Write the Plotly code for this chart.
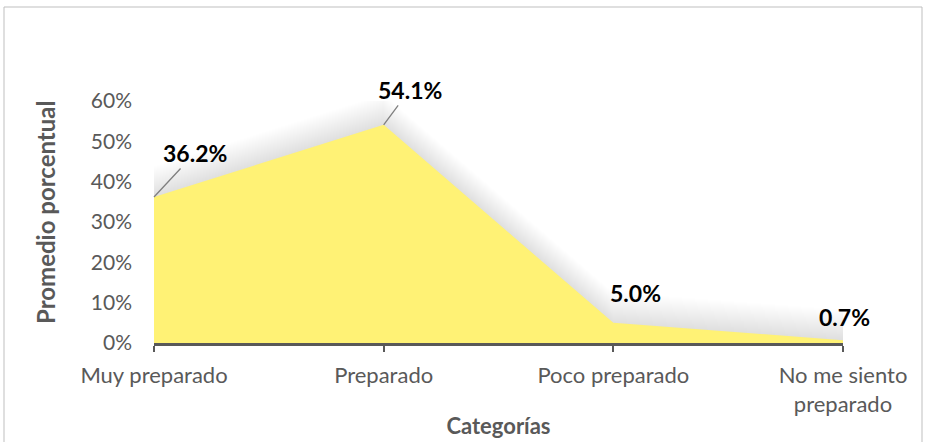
import plotly.graph_objects as go

categories = ["Muy preparado", "Preparado", "Poco preparado", "No me siento<br>preparado"]
values = [36.2, 54.1, 5.0, 0.7]
labels = ["36.2%", "54.1%", "5.0%", "0.7%"]
y_ticks = [0, 10, 20, 30, 40, 50, 60]
x_title = "Categorías"
y_title = "Promedio porcentual"

FONT = "Lato"
GRAY = "#595959"

fig = go.Figure()

# soft, diffuse shadow above the area (stacked translucent layers)
n_layers = 32
for k in range(n_layers, 0, -1):
    fig.add_trace(go.Scatter(
        x=categories, y=[v + k * 0.24 for v in values],
        mode="lines", line=dict(width=0, color="rgba(0,0,0,0)"),
        fill="tozeroy", fillcolor="rgba(0,0,0,0.0045)",
        hoverinfo="skip", showlegend=False))

fig.add_trace(go.Scatter(
    x=categories, y=values, mode="lines",
    line=dict(width=0, color="#FFF275"),
    fill="tozeroy", fillcolor="#FFF275",
    showlegend=False))

# data labels
offsets = [(41, -44, True), (26, -35, True), (22, -30, False), (1, -23, False)]
for cat, val, lab, (ax, ay, arrow) in zip(categories, values, labels, offsets):
    if arrow:
        fig.add_annotation(x=cat, y=val, text=f"<b>{lab}</b>", showarrow=True,
                           ax=ax, ay=ay, arrowhead=0, arrowwidth=1.3,
                           arrowcolor="#7F7F7F", standoff=0, startstandoff=0,
                           font=dict(family=FONT, size=23, color="black"))
    else:
        fig.add_annotation(x=cat, y=val, text=f"<b>{lab}</b>", showarrow=False,
                           xshift=ax, yshift=-ay,
                           font=dict(family=FONT, size=23, color="black"))

# layout geometry
W, H = 925, 442
L, R, T, B = 154, 82, 101, 99
pw, ph = W - L - R, H - T - B

# y-axis title (placed as rotated text)
fig.add_annotation(xref="paper", yref="paper", x=(45 - L) / pw, y=(H - B - 213) / ph,
                   text=f"<b>{y_title}</b>", textangle=-90, showarrow=False,
                   xanchor="center", yanchor="middle",
                   font=dict(family=FONT, size=24, color=GRAY))

# outer chart border
fig.add_shape(type="rect", xref="paper", yref="paper",
              x0=(4 - L) / pw, x1=(922 - L) / pw,
              y0=(B - 441) / ph, y1=(H - 7 - B) / ph,
              line=dict(color="#BFBFBF", width=1), layer="below")

fig.update_layout(
    width=W, height=H,
    margin=dict(l=L, r=R, t=T, b=B, autoexpand=False),
    paper_bgcolor="white", plot_bgcolor="white",
    font=dict(family=FONT, size=21, color=GRAY),
    xaxis=dict(
        type="category", range=[0, 3],
        showline=True, linecolor=GRAY, linewidth=2.5,
        ticks="outside", ticklen=6, tickwidth=2, tickcolor=GRAY,
        showgrid=False, zeroline=False,
        tickfont=dict(family=FONT, size=22, color=GRAY),
        ticklabelstandoff=5,
        title=dict(text=f"<b>{x_title}</b>", standoff=3,
                   font=dict(family=FONT, size=22, color=GRAY)),
    ),
    yaxis=dict(
        range=[0, 60], tickvals=y_ticks, ticktext=[f"{t}%" for t in y_ticks],
        showline=False, showgrid=False, zeroline=False, ticks="",
        tickfont=dict(family=FONT, size=21, color=GRAY),
        ticklabelstandoff=21,
    ),
)

fig.write_html("out.html", config={"displayModeBar": False},
               post_script="document.body.style.margin='0';")
